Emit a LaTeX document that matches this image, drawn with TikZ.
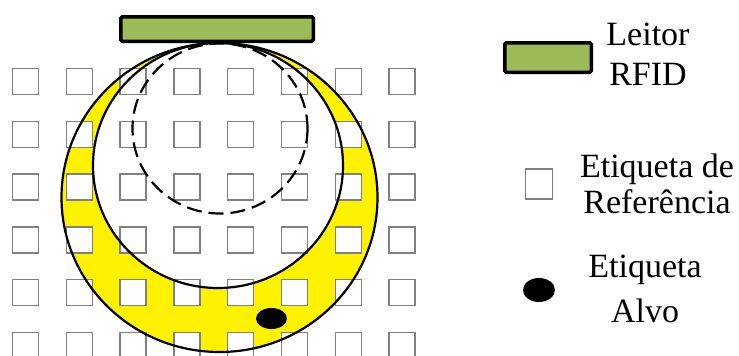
\documentclass[tikz,border=0pt]{standalone}
\usepackage{fontspec}
\setmainfont{Liberation Serif}
\usetikzlibrary{shapes.geometric}
\definecolor{readergreen}{RGB}{155,187,89}
\definecolor{zoneyellow}{RGB}{255,242,0}
\definecolor{sqgray}{RGB}{128,128,128}
\begin{document}
\begin{tikzpicture}[x=1pt,y=-1pt,
  refsq/.style={draw=sqgray,fill=white,line width=1.5pt,minimum width=26pt,minimum height=26pt,inner sep=0pt},
  reader/.style={draw=black,fill=readergreen,line width=3.5pt,rounded corners=1.5pt,inner sep=0pt},
  target/.style={ellipse,fill=black,inner sep=0pt},
  ring/.style={draw=black,line width=2.2pt},
  lbl/.style={font=\fontsize{34}{40}\selectfont,anchor=base,inner sep=0pt}]
\useasboundingbox (0,0) rectangle (739,356);
\begin{scope}
\clip (0,0) rectangle (739,356);
% yellow crescent
\fill[zoneyellow,even odd rule] (219.5,197.5) ellipse [x radius=158, y radius=154.5]
  (218,165.5) ellipse [x radius=125, y radius=122.5];
% reference tags
\foreach \i in {0,...,7}
  \foreach \j in {0,...,5}
    \node[refsq] (s\i\j) at ({25.5+53.8*\i},{81.5+52.8*\j}) {};
% circles
\draw[ring] (219.5,197.5) ellipse [x radius=158, y radius=154.5];
\draw[ring] (218,165.5) ellipse [x radius=125, y radius=122.5];
\draw[ring,dash pattern=on 15pt off 7pt] (220,128.5) ellipse [x radius=87.5, y radius=85];
% reader
\node[reader,minimum width=192.5pt,minimum height=24.5pt] (reader) at (217,29) {};
% target tag
\node[target,minimum width=31pt,minimum height=21pt] (tgt) at (271.5,318.5) {};
\end{scope}
% legend
\node[reader,minimum width=86.5pt,minimum height=29.5pt] (legreader) at (548,57.5) {};
\node[lbl] (l1a) at (648,45) {Leitor};
\node[lbl] (l1b) at (648,85) {RFID};
\node[refsq,minimum width=27pt,minimum height=30pt] (legsq) at (539,184) {};
\node[lbl] (l2a) at (657,177) {Etiqueta de};
\node[lbl] (l2b) at (657,213) {Referência};
\node[target,minimum width=32pt,minimum height=24pt] (legtgt) at (539,290) {};
\node[lbl] (l3a) at (645,277) {Etiqueta};
\node[lbl] (l3b) at (645,322) {Alvo};
\end{tikzpicture}
\end{document}
